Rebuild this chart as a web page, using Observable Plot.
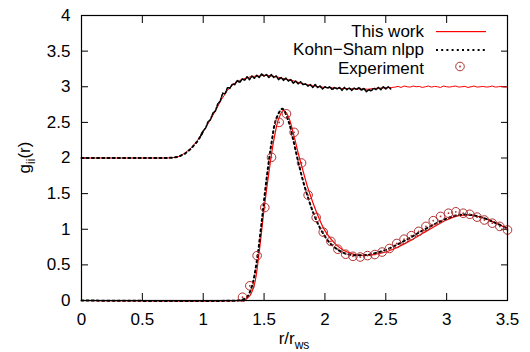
<!DOCTYPE html>
<html><head><meta charset="utf-8">
<script src="https://cdn.jsdelivr.net/npm/d3@7"></script>
<script src="https://cdn.jsdelivr.net/npm/@observablehq/plot@0.6"></script>
<style>body{margin:0;background:#fff}#chart{width:530px;height:352px}</style>
</head><body><div id="chart"></div>
<script>
// ---- ticks ----
const xTicks = [0,0.5,1,1.5,2,2.5,3,3.5];
const xTickLabels = ["0","0.5","1","1.5","2","2.5","3","3.5"];
const yTicks = [0,0.5,1,1.5,2,2.5,3,3.5,4];
const yTickLabels = ["0","0.5","1","1.5","2","2.5","3","3.5","4"];
const seriesNames = ["This work","Kohn\u2212Sham nlpp","Experiment"];

// ---- This work, lower curve ----
const workLowX = [0,1.30,1.34,1.38,1.42,1.46,1.50,1.54,1.58,1.62,1.66,1.70,1.74,1.78,1.82,1.86,1.90,1.95,2.00,2.05,2.10,2.15,2.20,2.25,2.30,2.35,2.40,2.50,2.60,2.70,2.80,2.90,3.00,3.10,3.20,3.30,3.40,3.50];
const workLowY = [0,0,0.01,0.06,0.22,0.68,1.28,1.80,2.25,2.55,2.67,2.58,2.35,2.07,1.82,1.58,1.38,1.16,0.98,0.86,0.77,0.71,0.67,0.645,0.635,0.635,0.645,0.68,0.75,0.84,0.94,1.04,1.13,1.19,1.20,1.16,1.09,1.01];

// ---- Kohn-Sham, lower curve ----
const ksLowX = [0,1.28,1.32,1.36,1.40,1.44,1.48,1.52,1.56,1.60,1.65,1.70,1.74,1.78,1.82,1.86,1.90,1.95,2.00,2.05,2.10,2.15,2.20,2.25,2.30,2.35,2.40,2.50,2.60,2.70,2.80,2.90,3.00,3.10,3.20,3.30,3.40,3.50];
const ksLowY = [0,0,0.01,0.05,0.20,0.55,1.10,1.70,2.20,2.55,2.69,2.52,2.25,1.95,1.68,1.45,1.25,1.05,0.90,0.79,0.72,0.67,0.645,0.635,0.635,0.64,0.66,0.71,0.79,0.88,0.98,1.07,1.15,1.20,1.20,1.16,1.09,1.01];

// ---- This work, upper curve ----
const workTopX = [0,0.70,0.75,0.80,0.85,0.90,0.95,1.00,1.05,1.10,1.15,1.20,1.25,1.30,1.35,1.40,1.45,1.50,1.55,1.60,1.65,1.70,1.75,1.80,1.85,1.90,1.95,2.00,2.05,2.10,2.15,2.20,2.25,2.30,2.35,2.40,2.45,2.50,2.55,
  2.575,2.6,2.625,2.65,2.675,2.7,2.725,2.75,2.775,2.8,2.825,2.85,2.875,2.9,2.925,2.95,2.975,3.0,3.025,3.05,3.075,3.1,3.125,3.15,3.175,3.2,3.225,3.25,3.275,3.3,3.325,3.35,3.375,3.4,3.425,3.45,3.475,3.5];
const workTopY = [2.00,2.00,2.005,2.02,2.07,2.14,2.24,2.37,2.51,2.66,2.82,2.95,3.04,3.09,3.12,3.145,3.15,3.16,3.155,3.14,3.12,3.10,3.08,3.05,3.03,3.015,3.0,2.99,2.985,2.98,2.975,2.975,2.97,2.97,2.965,2.975,2.98,2.985,2.99,
  2.995,3.005,2.99,3.01,3.0,2.995,3.01,3.0,3.005,2.99,3.0,3.01,2.995,3.005,3.0,2.99,3.01,3.0,2.995,3.005,3.01,2.995,3.0,3.005,2.99,3.0,3.01,2.995,3.0,3.005,2.995,3.0,3.01,2.995,3.0,3.005,2.995,3.0];

// ---- Kohn-Sham, upper curve ----
const ksTopX = [0,0.70,0.75,0.80,0.85,0.90,0.95,0.98,
  1.00,1.02,1.04,1.06,1.08,1.10,1.12,1.14,1.16,1.18,
  1.20,1.22,1.24,1.26,1.28,1.30,1.32,1.34,1.36,1.38,
  1.40,1.42,1.44,1.46,1.48,1.50,1.52,1.54,1.56,1.58,
  1.60,1.62,1.64,1.66,1.68,1.70,1.72,1.74,1.76,1.78,
  1.80,1.82,1.84,1.86,1.88,1.90,1.92,1.94,1.96,1.98,
  2.00,2.02,2.04,2.06,2.08,2.10,2.12,2.14,2.16,2.18,
  2.20,2.22,2.24,2.26,2.28,2.30,2.32,2.34,2.36,2.38,
  2.40,2.42,2.44,2.46,2.48,2.50,2.52,2.54];
const ksTopY = [2.0,2.0,2.005,2.02,2.06,2.13,2.23,2.31,
  2.38,2.42,2.51,2.54,2.63,2.66,2.76,2.80,2.91,2.90,
  2.99,2.98,3.04,3.03,3.09,3.06,3.11,3.09,3.14,3.10,
  3.15,3.12,3.16,3.13,3.18,3.15,3.17,3.13,3.17,3.13,
  3.15,3.10,3.13,3.09,3.12,3.08,3.10,3.05,3.08,3.04,
  3.07,3.03,3.04,3.01,3.03,2.99,3.03,2.99,3.01,2.97,
  3.00,2.98,3.00,2.96,2.99,2.97,2.99,2.95,2.99,2.96,
  2.98,2.95,2.98,2.96,2.99,2.95,2.98,2.93,2.96,2.94,
  2.98,2.96,2.99,2.96,3.00,2.97,3.00,2.97];

// ---- Experiment ----
const expX = [1.323,1.383,1.443,1.506,1.561,1.624,1.684,1.747,1.808,1.862,1.928,1.986,2.049,2.106,2.17,2.23,2.29,2.35,2.41,2.47,2.53,2.59,2.65,2.71,2.77,2.83,2.89,2.95,3.015,3.075,3.136,3.19,3.25,3.31,3.375,3.437,3.50];
const expY = [0.046,0.206,0.63,1.305,2.01,2.50,2.62,2.36,1.93,1.48,1.165,0.96,0.83,0.72,0.65,0.62,0.61,0.63,0.645,0.68,0.73,0.80,0.86,0.91,0.97,1.04,1.12,1.18,1.225,1.245,1.225,1.21,1.17,1.13,1.085,1.04,0.99];

const pts = (xs, ys) => xs.map((x, i) => ({x, y: ys[i]}));
const workLow = pts(workLowX, workLowY), ksLow = pts(ksLowX, ksLowY);
const workTop = pts(workTopX, workTopY), ksTop = pts(ksTopX, ksTopY);
const ksTopFlat = ksTop.filter(d => d.x <= 1.0);
const ksTopNoisy = ksTop.filter(d => d.x >= 0.98);
const expPts = pts(expX, expY);

const RED_C = "#ff0000", EXP_C = "#b03030";
const KSDASH = "2,3.2";
const fmtX = d => xTickLabels[xTicks.indexOf(d)];
const fmtY = d => yTickLabels[yTicks.indexOf(d)];

const plot = Plot.plot({
  width: 530, height: 352,
  marginLeft: 81, marginRight: 23, marginTop: 15, marginBottom: 52,
  x: {domain: [0, 3.5]},
  y: {domain: [0, 4]},
  style: {fontFamily: "'Liberation Sans', Arial, sans-serif", fontSize: "17px", background: "white", color: "black"},
  marks: [
    Plot.axisX({ticks: xTicks, anchor: "bottom", tickSize: -7, tickFormat: () => "", label: null}),
    Plot.axisX({ticks: xTicks, anchor: "top", tickSize: -7, tickFormat: () => "", label: null}),
    Plot.axisY({ticks: yTicks, anchor: "left", tickSize: -7, tickFormat: () => "", label: null}),
    Plot.axisY({ticks: yTicks, anchor: "right", tickSize: -7, tickFormat: () => "", label: null}),
    Plot.axisX({ticks: xTicks, anchor: "bottom", tickSize: 0, tickPadding: 12, tickFormat: fmtX, label: null, fontSize: 17}),
    Plot.axisY({ticks: yTicks, anchor: "left", tickSize: 0, tickPadding: 11, tickFormat: fmtY, label: null, fontSize: 17}),
    Plot.line(workTop, {x: "x", y: "y", stroke: RED_C, strokeWidth: 1}),
    Plot.line(workLow, {x: "x", y: "y", stroke: RED_C, strokeWidth: 1.2, curve: "catmull-rom"}),
    Plot.line(ksTopFlat, {x: "x", y: "y", stroke: "black", strokeWidth: 2, strokeDasharray: KSDASH}),
    Plot.line(ksTopNoisy, {x: "x", y: "y", stroke: "black", strokeWidth: 1.6, strokeDasharray: "2,1.5"}),
    Plot.line(ksLow, {x: "x", y: "y", stroke: "black", strokeWidth: 2, strokeDasharray: KSDASH, curve: "catmull-rom"}),
    Plot.dot(expPts, {x: "x", y: "y", r: 4.3, stroke: EXP_C, strokeWidth: 1, fill: "none"}),
    Plot.dot(expPts, {x: "x", y: "y", r: 0.9, fill: EXP_C, stroke: "none"}),
    Plot.frame({stroke: "black", strokeWidth: 1.2})
  ]
});
document.getElementById("chart").appendChild(plot);

// ---- legend & axis titles ----
const NS = "http://www.w3.org/2000/svg";
const font = "'Liberation Sans', Arial, sans-serif";
function el(tag, attrs, parent) {
  const e = document.createElementNS(NS, tag);
  for (const k in attrs) e.setAttribute(k, attrs[k]);
  parent.appendChild(e);
  return e;
}
const lg = el("g", {"font-family": font, "font-size": 17}, plot);
const rows = [36.5, 55, 73.5];
rows.forEach((b, i) => {
  const t = el("text", {x: 424, y: b, "text-anchor": "end", fill: "black"}, lg);
  t.textContent = seriesNames[i];
});
el("rect", {x: 436, y: 31, width: 50, height: 1.2, fill: RED_C, stroke: "none"}, lg);
el("path", {d: "M436,50H486", stroke: "black", "stroke-width": 2, "stroke-dasharray": KSDASH, fill: "none"}, lg);
el("circle", {cx: 460, cy: 66.5, r: 4.3, fill: "none", stroke: EXP_C, "stroke-width": 1}, lg);
el("circle", {cx: 460, cy: 66.5, r: 0.9, fill: EXP_C, stroke: "none"}, lg);

const xl = el("text", {x: 294, y: 344, "text-anchor": "middle", "font-family": font, "font-size": 17, fill: "black"}, plot);
el("tspan", {}, xl).textContent = "r/r";
el("tspan", {"font-size": 12, dy: 5}, xl).textContent = "ws";

const yl = el("text", {transform: "translate(30,157.5) rotate(-90)", "text-anchor": "middle", "font-family": font, "font-size": 17, fill: "black"}, plot);
el("tspan", {}, yl).textContent = "g";
el("tspan", {"font-size": 12, dy: 5}, yl).textContent = "ii";
el("tspan", {dy: -5}, yl).textContent = "(r)";
</script>
</body></html>
